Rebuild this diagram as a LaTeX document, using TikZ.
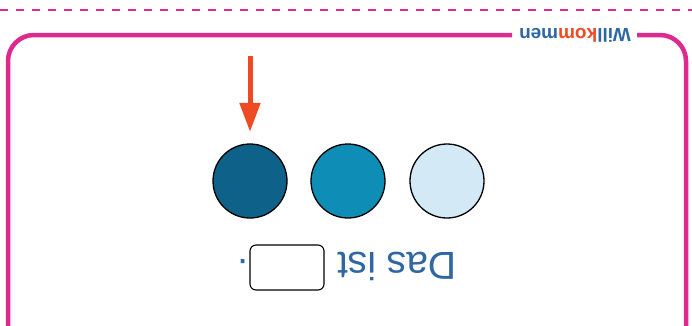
\documentclass[tikz,border=0pt]{standalone}
\usepackage{fontspec}
\setmainfont{Liberation Sans}
\usetikzlibrary{arrows.meta}
\definecolor{pinkline}{HTML}{DE2A8E}
\definecolor{arroworange}{HTML}{EE4A23}
\definecolor{darkblue}{HTML}{0E6189}
\definecolor{midblue}{HTML}{0E8DB6}
\definecolor{lightblue}{HTML}{D3E9F6}
\definecolor{textblue}{HTML}{2E67A3}
\begin{document}
\begin{tikzpicture}[x=1pt,y=-1pt,
  dot/.style={circle,draw=black,line width=1.3pt,minimum size=74pt,inner sep=0pt},
  flipped/.style={rotate=180,inner sep=0pt},
  frameline/.style={draw=pinkline,line width=4.5pt}]
\useasboundingbox (0,0) rectangle (692,325);
% dashed top line
\coordinate (dl) at (0,10);
\coordinate (dr) at (692,10);
\draw[pinkline,line width=2pt,dash pattern=on 8pt off 8pt] (dl) -- (dr);
% frame with gap for label
\coordinate (gapl) at (512,35);
\coordinate (gapr) at (637,35);
\draw[frameline,rounded corners=26pt] (gapl) -- (8,35) -- (8,360);
\draw[frameline,rounded corners=26pt] (gapr) -- (686,35) -- (686,360);
\node[flipped,font=\bfseries\fontsize{19}{19}\selectfont,text=textblue] (label) at (575,35)
  {Will\textcolor{arroworange}{kom}men};
% circles
\node[dot,fill=darkblue] (c1) at (250,181) {};
\node[dot,fill=midblue] (c2) at (348,181) {};
\node[dot,fill=lightblue] (c3) at (447,181) {};
% arrow
\coordinate (atop) at (250,56);
\draw[arroworange,line width=5pt,-{Triangle[length=29pt,width=20pt]}] (atop) -- ([yshift=11.5pt]c1.north);
% text
\node[flipped,font=\fontsize{39}{39}\selectfont,text=textblue] (das) at (397,266) {Das ist};
\node[draw=black,line width=1.1pt,rounded corners=6pt,minimum width=74pt,minimum height=45pt] (blank) at (287,267.5) {};
\node[flipped,font=\fontsize{39}{39}\selectfont,text=textblue,anchor=center] (dot) at (243,262) {.};
\end{tikzpicture}
\end{document}
